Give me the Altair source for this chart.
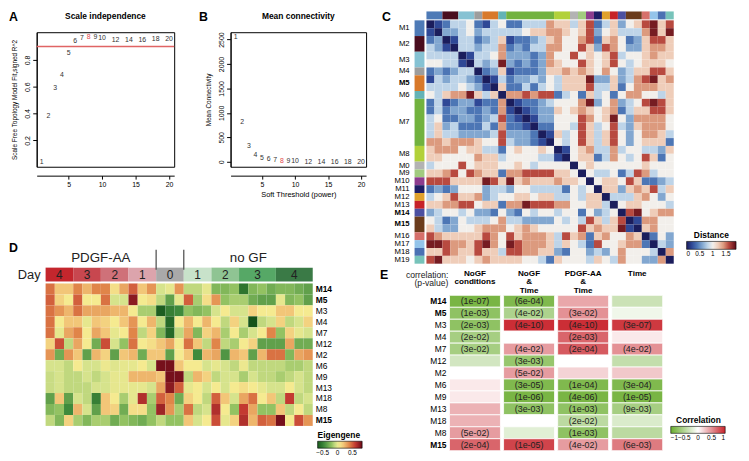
import altair as alt
import pandas as pd

FONT = "Liberation Sans"

# ================= Panels A and B : soft-threshold selection =================
powers = [1, 2, 3, 4, 5, 6, 7, 8, 9, 10, 12, 14, 16, 18, 20]
sft_r2 = [0.04, 0.384, 0.59, 0.69, 0.854, 0.94, 0.96, 0.97, 0.97, 0.96, 0.948, 0.948, 0.95, 0.955, 0.955]
mean_k = [2548, 806, 316, 135, 81, 48, 30, 18, 12, 9, 5, 3, 2, 1.5, 1]
chosen_power = 8
r2_cutoff = 0.9
power_ticks = [5, 10, 15, 20]
r2_ticks = [0.2, 0.4, 0.6, 0.8]
k_ticks = [0, 500, 1000, 1500, 2000, 2500]

# ================= Panel C : eigengene distance matrix =================
c_modules = ["M1", "M2", "M3", "M4", "M5", "M6", "M7", "M8", "M0", "M9", "M10",
             "M11", "M12", "M13", "M14", "M15", "M16", "M17", "M18", "M19"]
c_rows_per_module = [2, 2, 2, 1, 2, 1, 6, 2, 1, 1, 1, 1, 1, 1, 1, 2, 1, 1, 1, 1]
c_module_colors = ["#4e7ab6", "#4a0d1e", "#86c2d3", "#9d9d9d", "#d8792a", "#63b3b6", "#72b23f",
                   "#b2d13a", "#b3b3b3", "#a2cb7f", "#8d3c8e", "#1f1e66", "#e0a12c", "#c72228",
                   "#4c50a1", "#6b3c1c", "#d6706b", "#94c4ea", "#4b71b3", "#77c3ba"]
c_bold_modules = ["M5", "M14", "M15"]
distance_ticks = [0, 0.5, 1, 1.5]
distance_step = 0.2   # one level of the rows below
# upper triangle of the distance matrix, row by row (levels 0..9)
dist_r00 = [1, 2, 4, 4, 5, 2, 1, 4, 5, 2, 2, 4, 4, 4, 7, 6, 6, 4, 6, 8, 2, 4, 6, 3, 5, 6, 8, 9, 6, 8]
dist_r01 = [3, 3, 4, 5, 3, 4, 4, 4, 4, 4, 5, 6, 6, 7, 7, 6, 5, 6, 8, 3, 5, 6, 4, 4, 4, 7, 9, 6, 9]
dist_r02 = [1, 4, 4, 2, 3, 4, 6, 1, 2, 2, 3, 4, 6, 7, 5, 5, 7, 8, 2, 6, 7, 5, 2, 3, 6, 8, 8, 6]
dist_r03 = [4, 4, 3, 4, 4, 7, 2, 3, 2, 4, 4, 7, 7, 5, 5, 8, 6, 3, 8, 7, 5, 3, 3, 6, 7, 7, 6]
dist_r04 = [1, 4, 4, 5, 7, 3, 3, 3, 2, 3, 7, 5, 5, 8, 5, 6, 5, 6, 8, 4, 5, 5, 6, 7, 6, 6]
dist_r05 = [4, 3, 4, 9, 3, 2, 3, 2, 3, 7, 6, 5, 5, 8, 6, 5, 6, 8, 5, 4, 5, 6, 6, 6, 5]
dist_r06 = [2, 3, 6, 1, 2, 2, 2, 3, 6, 6, 7, 6, 7, 6, 5, 7, 5, 3, 4, 6, 6, 8, 8, 6]
dist_r07 = [1, 4, 2, 3, 3, 4, 3, 5, 4, 6, 6, 6, 9, 3, 3, 6, 3, 4, 7, 8, 9, 6, 7]
dist_r08 = [6, 2, 2, 4, 2, 4, 5, 4, 6, 6, 6, 8, 4, 4, 6, 2, 5, 7, 7, 7, 6, 6]
dist_r09 = [7, 7, 8, 7, 8, 8, 2, 4, 5, 2, 6, 4, 5, 2, 5, 7, 7, 5, 5, 4, 6]
dist_r10 = [1, 2, 2, 3, 4, 5, 5, 5, 7, 9, 3, 5, 7, 3, 4, 5, 8, 9, 8, 6]
dist_r11 = [1, 2, 3, 3, 6, 5, 6, 7, 6, 5, 6, 7, 2, 4, 6, 6, 8, 8, 6]
dist_r12 = [1, 3, 3, 5, 5, 5, 8, 7, 5, 6, 9, 5, 3, 7, 7, 7, 7, 5]
dist_r13 = [2, 2, 5, 5, 4, 8, 6, 4, 5, 8, 4, 3, 6, 7, 7, 7, 5]
dist_r14 = [1, 6, 4, 5, 8, 6, 4, 6, 8, 5, 3, 5, 7, 7, 6, 4]
dist_r15 = [5, 4, 5, 8, 6, 4, 6, 8, 5, 3, 5, 6, 6, 6, 2]
dist_r16 = [1, 5, 6, 7, 4, 4, 7, 4, 5, 5, 4, 4, 3, 6]
dist_r17 = [5, 6, 6, 2, 4, 7, 5, 4, 5, 8, 6, 2, 5]
dist_r18 = [5, 6, 5, 5, 5, 5, 5, 5, 6, 5, 5, 5]
dist_r19 = [5, 4, 4, 5, 2, 4, 8, 7, 4, 5, 5]
dist_r20 = [5, 6, 6, 5, 8, 6, 2, 2, 3, 4]
dist_r21 = [6, 6, 3, 6, 7, 6, 8, 4, 6]
dist_r22 = [4, 4, 4, 6, 7, 5, 3, 5]
dist_r23 = [5, 6, 6, 5, 5, 5, 4]
dist_r24 = [8, 9, 5, 6, 7, 7]
dist_r25 = [1, 7, 7, 5, 5]
dist_r26 = [6, 7, 5, 5]
dist_r27 = [2, 5, 3]
dist_r28 = [4, 3]
dist_r29 = [7]
dist_r30 = []

# ================= Panel D : module eigengenes over time =================
d_modules = ["M14", "M5", "M3", "M4", "M7", "M12", "M2", "M6", "M9", "M13", "M18", "M8", "M15"]
d_bold_modules = ["M14", "M5", "M15"]
d_group_names = ["PDGF-AA", "no GF"]
d_day_labels = ["4", "3", "2", "1", "0", "1", "2", "3", "4"]
d_day_ncols = [3, 3, 3, 3, 3, 3, 3, 4, 4]
d_day_colors = ["#c4262d", "#c8474f", "#cf7179", "#dca4ac", "#a9a9a9",
                "#c8e2ca", "#8fc493", "#56a866", "#3a7a46"]
eigengene_ticks = [-0.5, 0, 0.5]
eig_M14 = [0.45, 0.2, 0.2, 0.4, 0.25, 0.4, 0.4, 0.1, 0.3, 0.5, 0.2, 0.35, -0.05, 0.0, 0.35,
           -0.1, -0.1, 0.0, -0.25, -0.25, -0.2, -0.55, -0.25, -0.2, -0.3, -0.25, -0.25, -0.3, -0.35]
eig_M5 = [0.5, 0.15, 0.05, 0.5, 0.05, 0.05, 0.45, -0.05, -0.05, 0.75, 0.05, 0.1, -0.1, -0.35, 0.0,
          0.5, -0.15, 0.1, 0.35, -0.2, -0.15, -0.15, -0.3, -0.35, -0.35, 0.0, -0.25, -0.2, -0.35]
eig_M3 = [0.45, 0.35, 0.25, 0.45, 0.3, 0.3, 0.3, 0.25, 0.25, 0.05, -0.15, -0.15, -0.65, -0.5, -0.45,
          -0.2, -0.25, -0.2, -0.05, 0.05, -0.05, -0.05, 0.15, 0.05, 0.05, 0.2, 0.2, 0.05, 0.05]
eig_M4 = [0.45, 0.05, 0.2, 0.2, 0.0, 0.2, 0.15, 0.05, 0.2, 0.35, 0.05, 0.25, -0.1, -0.6, 0.05,
          0.25, 0.05, 0.25, 0.05, -0.1, 0.15, -0.05, -0.7, -0.1, -0.05, 0.15, -0.1, -0.05, 0.15]
eig_M7 = [0.45, 0.0, 0.3, 0.4, 0.05, 0.3, 0.2, 0.0, 0.05, 0.4, -0.1, 0.15, -0.25, -0.6, -0.1,
          0.3, -0.25, 0.15, 0.25, -0.15, 0.05, -0.15, -0.05, 0.05, 0.4, -0.2, 0.15, 0.0, -0.05]
eig_M12 = [0.15, 0.55, -0.1, 0.3, 0.05, -0.3, 0.55, -0.05, -0.2, 0.45, 0.05, 0.1, 0.2, 0.3, 0.05,
           0.45, 0.2, -0.1, 0.4, -0.1, -0.15, 0.05, 0.15, -0.35, -0.35, -0.35, 0.3, -0.3, -0.3]
eig_M2 = [0.35, -0.3, 0.35, 0.2, -0.35, 0.25, 0.15, -0.35, 0.2, 0.25, -0.3, 0.2, 0.2, -0.35, 0.05,
          0.2, -0.45, 0.25, 0.3, -0.4, 0.25, 0.2, -0.35, 0.25, 0.45, 0.45, -0.25, 0.3, 0.35]
eig_M6 = [-0.05, -0.05, -0.1, 0.05, -0.05, -0.05, 0.02, -0.02, 0.0, 0.0, 0.05, -0.05, 0.8, 0.8, 0.2,
          0.05, 0.05, -0.05, 0.0, -0.05, -0.1, 0.02, -0.1, -0.1, -0.1, -0.1, -0.15, -0.15, -0.1]
eig_M9 = [-0.08, -0.05, -0.1, -0.1, -0.05, -0.1, -0.05, 0.0, 0.0, 0.25, 0.25, 0.25, 0.2, 0.8, 0.8,
          -0.1, 0.25, 0.15, -0.1, -0.05, -0.05, -0.15, -0.05, -0.1, -0.1, -0.15, -0.1, -0.05, -0.1]
eig_M13 = [-0.08, -0.05, -0.1, -0.1, -0.1, -0.05, -0.05, 0.0, 0.0, 0.0, 0.0, -0.05, 0.3, 0.75, 0.5,
           0.0, 0.05, -0.05, 0.05, -0.05, 0.05, 0.1, 0.05, 0.0, -0.05, -0.05, 0.05, -0.05, -0.1]
eig_M18 = [-0.35, 0.2, -0.35, -0.05, -0.1, -0.5, 0.2, 0.05, -0.15, 0.0, 0.65, -0.15, 0.5, 0.4, -0.3,
           0.15, 0.05, -0.1, 0.5, 0.2, -0.05, 0.3, 0.45, 0.05, 0.2, -0.1, 0.6, -0.1, -0.05]
eig_M8 = [-0.25, -0.2, -0.45, 0.25, -0.05, -0.35, 0.2, 0.15, -0.3, 0.1, 0.1, -0.2, 0.7, 0.35, -0.15,
          0.45, -0.1, -0.05, 0.65, 0.05, -0.2, 0.6, 0.3, -0.2, -0.2, 0.2, -0.1, 0.05, -0.1]
eig_M15 = [-0.1, -0.25, 0.15, -0.15, -0.25, -0.15, -0.15, -0.3, -0.2, -0.25, -0.3, -0.2, -0.1, -0.2, -0.2,
           0.2, -0.05, 0.05, 0.55, 0.0, 0.15, 0.65, 0.25, 0.5, 0.45, 0.8, 0.05, 0.55, 0.35]

# ================= Panel E : module-trait correlations =================
e_columns = ["NoGF\nconditions", "NoGF\n&\nTime", "PDGF-AA\n&\nTime", "Time"]
corr_nogf_cond = [-0.9, -0.75, -0.75, -0.6, -0.6, -0.3, 0.0, 0.1, 0.1, 0.35, 0.35, 0.45, 0.7]
p_nogf_cond = ["1e-07", "1e-03", "2e-03", "2e-02", "3e-02", "", "", "", "", "", "", "5e-02", "2e-04"]
corr_nogf_time = [-0.85, -0.55, 0.95, 0.0, 0.45, -0.7, 0.45, -0.85, -0.9, -0.75, 0.0, -0.2, 0.85]
p_nogf_time = ["6e-04", "4e-02", "4e-10", "", "4e-02", "3e-03", "5e-02", "3e-05", "1e-06", "3e-03", "", "", "1e-05"]
corr_pdgf_time = [0.4, 0.5, 0.95, 0.7, 0.75, 0.0, 0.2, -0.85, -0.9, -0.75, -0.45, -0.75, 0.45]
p_pdgf_time = ["", "3e-02", "4e-10", "2e-03", "2e-04", "", "", "1e-04", "4e-06", "1e-03", "2e-02", "1e-03", "4e-02"]
corr_time = [-0.35, -0.1, 0.9, 0.1, 0.5, -0.4, 0.25, -0.85, -0.9, -0.6, -0.25, -0.45, 0.6]
p_time = ["", "", "3e-07", "", "4e-02", "", "", "3e-04", "1e-05", "9e-03", "", "", "6e-03"]
correlation_ticks = [-1, -0.5, 0, 0.5, 1]

# ============================================================================
BLACK = "black"
LEFT_GUTTER = 28   # room left of panels A / D for letters and axis titles
TOP_GUTTER = 21    # room above panels A / B / C for letters and titles


def xq(f, sc):
    return alt.X(f, type="quantitative", scale=sc, axis=None)


def yq(f, sc):
    return alt.Y(f, type="quantitative", scale=sc, axis=None)


def lin(dom, rev=False):
    if rev:
        return alt.Scale(domain=dom, nice=False, zero=False, reverse=True)
    return alt.Scale(domain=dom, nice=False, zero=False)


def grad_legend(title, lx, ly, length, thick, values, anchor):
    return alt.Legend(title=title, orient="none", legendX=lx, legendY=ly, direction="horizontal",
                      gradientLength=length, gradientThickness=thick, values=values, format=".2~g",
                      titleFontSize=8.5, titleFontWeight="bold", titleFont=FONT, titleColor=BLACK,
                      titleAnchor=anchor, titlePadding=2, labelFontSize=6.5, labelFont=FONT,
                      labelColor=BLACK, labelAlign="center", labelOffset=2, labelOverlap=False,
                      gradientStrokeColor=BLACK, gradientStrokeWidth=0.6)


def letter(txt, xv, yv):
    return alt.Chart(pd.DataFrame({"t": [txt]})).mark_text(
        font=FONT, fontSize=12.5, fontWeight="bold", align="left", baseline="top", color=BLACK
    ).encode(text="t:N", x=alt.value(xv), y=alt.value(yv))


def head(txt, xv):
    return alt.Chart(pd.DataFrame({"t": [txt]})).mark_text(
        font=FONT, fontSize=8.5, fontWeight="bold", align="center", baseline="alphabetic", color=BLACK
    ).encode(text="t:N", x=alt.value(xv), y=alt.value(-13.5))


# ---------------- A / B ----------------
dfAB = pd.DataFrame({"power": powers, "r2": sft_r2, "k": mean_k})
dfAB["label"] = dfAB["power"].astype(str)
dfAB["chosen"] = dfAB["power"] == chosen_power
x_ab = lin([0.24, 20.76])
y_a = lin([0.003, 1.007])
y_b = lin([-101, 2650])
pt_color = alt.condition("datum.chosen", alt.value("#e3474d"), alt.value("#333333"))


def x_axis(title):
    return alt.Axis(values=power_ticks, title=title, offset=9, tickSize=3.5, labelFontSize=7,
                    labelPadding=1, titleFontSize=7.5, titleFontWeight="normal", titlePadding=4)


def y_axis(title, fmt, vals):
    return alt.Axis(values=vals, format=fmt, title=title, tickSize=4, labelAngle=270,
                    labelAlign="center", labelBaseline="bottom", labelPadding=2, labelFontSize=7,
                    titleFontSize=6.5, titleFontWeight="normal", titlePadding=6)


A_W, A_H = 139, 136
B_W = 137
A_rule = alt.Chart(pd.DataFrame({"cut": [r2_cutoff]})).mark_rule(color="#e06464", strokeWidth=1.5).encode(
    y=alt.Y("cut:Q", scale=y_a, axis=y_axis("Scale Free Topology Model Fit,signed R^2", ".1f", r2_ticks)))
A_pts = alt.Chart(dfAB).mark_text(font=FONT, fontSize=7).encode(
    x=alt.X("power:Q", scale=x_ab, axis=x_axis(None)),
    y=alt.Y("r2:Q", scale=y_a, axis=y_axis("Scale Free Topology Model Fit,signed R^2", ".1f", r2_ticks)),
    text="label:N", color=pt_color)
A = alt.layer(A_rule, A_pts, letter("A", -LEFT_GUTTER, -TOP_GUTTER), head("Scale independence", A_W / 2)).properties(
    width=A_W, height=A_H, view=alt.ViewBackground(stroke=BLACK, strokeWidth=1))

B_pts = alt.Chart(dfAB).mark_text(font=FONT, fontSize=7).encode(
    x=alt.X("power:Q", scale=x_ab, axis=x_axis("Soft Threshold (power)")),
    y=alt.Y("k:Q", scale=y_b, axis=y_axis("Mean Connectivity", "d", k_ticks)),
    text="label:N", color=pt_color)
B = alt.layer(B_pts, letter("B", -32, -TOP_GUTTER), head("Mean connectivity", B_W / 2)).properties(
    width=B_W, height=A_H, view=alt.ViewBackground(stroke=BLACK, strokeWidth=1))

# ---------------- C ----------------
upper = [dist_r00, dist_r01, dist_r02, dist_r03, dist_r04, dist_r05, dist_r06, dist_r07, dist_r08,
         dist_r09, dist_r10, dist_r11, dist_r12, dist_r13, dist_r14, dist_r15, dist_r16, dist_r17,
         dist_r18, dist_r19, dist_r20, dist_r21, dist_r22, dist_r23, dist_r24, dist_r25, dist_r26,
         dist_r27, dist_r28, dist_r29, dist_r30]
n = len(upper)
mat = [[0.0] * n for _ in range(n)]
for i, row in enumerate(upper):
    for k, lev in enumerate(row):
        j = i + 1 + k
        mat[i][j] = lev * distance_step
        mat[j][i] = lev * distance_step
dfC = pd.DataFrame([{"c0": j, "c1": j + 1, "r0": i, "r1": i + 1, "d": mat[i][j]}
                    for i in range(n) for j in range(n)])
starts = []
s = 0
for cnt in c_rows_per_module:
    starts.append(s)
    s += cnt
dfCm = pd.DataFrame({"module": c_modules, "s": starts,
                     "e": [a + b for a, b in zip(starts, c_rows_per_module)], "col": c_module_colors})
dfCm["mid"] = (dfCm["s"] + dfCm["e"]) / 2
dfCm["bold"] = dfCm["module"].isin(c_bold_modules)
dfCm["bar0"] = -1.134
dfCm["bar1"] = -0.126
dfCm["sx0"] = -1.488
dfCm["sx1"] = -0.248
dfCm["lx"] = -2.11
x_c = lin([-5.828, 39.432])
y_c = lin([1.512, 31.126], rev=True)
dist_scale = alt.Scale(domain=[0, 0.2, 0.4, 0.6, 0.8, 1.0, 1.2, 1.4, 1.6, 1.88],
                       range=["#1b1d5c", "#2f4896", "#4d76b5", "#82a7d0", "#bed4e8", "#f2efeb",
                              "#efcdb9", "#dc9a7e", "#b84a40", "#5c0a16"], interpolate="rgb")
C_heat = alt.Chart(dfC).mark_rect().encode(
    x=xq("c0", x_c), x2=alt.X2("c1"), y=yq("r0", y_c), y2=alt.Y2("r1"),
    color=alt.Color("d:Q", scale=dist_scale,
                    legend=grad_legend("Distance", 310, 201, 50, 8, distance_ticks, "middle")))
C_top = alt.Chart(dfCm).mark_rect().encode(
    x=xq("s", x_c), x2=alt.X2("e"), y=yq("bar0", y_c), y2=alt.Y2("bar1"),
    fill=alt.Fill("col:N", scale=None))
C_side = alt.Chart(dfCm).mark_rect().encode(
    y=yq("s", y_c), y2=alt.Y2("e"), x=xq("sx0", x_c), x2=alt.X2("sx1"),
    fill=alt.Fill("col:N", scale=None))
C_lab_n = alt.Chart(dfCm).transform_filter("!datum.bold").mark_text(
    font=FONT, fontSize=7.8, align="right", baseline="middle", color=BLACK).encode(
    x=xq("lx", x_c), y=yq("mid", y_c), text="module:N")
C_lab_b = alt.Chart(dfCm).transform_filter("datum.bold").mark_text(
    font=FONT, fontSize=7.8, fontWeight="bold", align="right", baseline="middle", color=BLACK).encode(
    x=xq("lx", x_c), y=yq("mid", y_c), text="module:N")
C = alt.layer(C_heat, C_top, C_side, C_lab_n, C_lab_b, letter("C", 2, -TOP_GUTTER)).properties(
    width=365, height=235)

# ---------------- D ----------------
d_rows = [eig_M14, eig_M5, eig_M3, eig_M4, eig_M7, eig_M12, eig_M2, eig_M6, eig_M9, eig_M13,
          eig_M18, eig_M8, eig_M15]
dfD = pd.DataFrame([{"c0": c, "c1": c + 1, "r0": r, "r1": r + 1, "v": v}
                    for r, vals in enumerate(d_rows) for c, v in enumerate(vals)])
ncol = sum(d_day_ncols)
dstarts = []
s = 0
for cnt in d_day_ncols:
    dstarts.append(s)
    s += cnt
dfDay = pd.DataFrame({"lab": d_day_labels, "s": dstarts,
                      "e": [a + b for a, b in zip(dstarts, d_day_ncols)], "col": d_day_colors})
dfDay["mid"] = (dfDay["s"] + dfDay["e"]) / 2
dfDay["y0"] = -1.444
dfDay["y1"] = -0.181
dfDay["ym"] = -0.81
ctrl = 4  # index of the day-0 group
dfHdr = pd.DataFrame({"t": d_group_names,
                      "x": [dstarts[ctrl] / 2, (dfDay["e"][ctrl] + ncol) / 2],
                      "y": [-2.35, -2.35]})
dfSep = pd.DataFrame({"x": [dstarts[ctrl], dfDay["e"][ctrl]], "y0": [-3.07, -3.07], "y1": [-1.26, -1.26]})
dfDlab = pd.DataFrame({"module": d_modules, "r": [i + 0.5 for i in range(len(d_modules))]})
dfDlab["bold"] = dfDlab["module"].isin(d_bold_modules)
dfDlab["x"] = ncol + 0.32
x_d = lin([-0.967, 34.9])
y_d = lin([-3.79, 16.07], rev=True)
eig_scale = alt.Scale(domain=[-0.67, -0.45, -0.2, -0.05, 0.05, 0.2, 0.4, 0.6, 0.83],
                      range=["#1a5a1e", "#3f8a3c", "#93c262", "#d6e38c", "#f5ea90", "#f2c678",
                             "#e08549", "#c33a31", "#6b0a18"], interpolate="rgb")
D_heat = alt.Chart(dfD).mark_rect().encode(
    x=xq("c0", x_d), x2=alt.X2("c1"), y=yq("r0", y_d), y2=alt.Y2("r1"),
    color=alt.Color("v:Q", scale=eig_scale,
                    legend=grad_legend("Eigengene", 284, 191, 45, 7, eigengene_ticks, "start")))
D_day = alt.Chart(dfDay).mark_rect().encode(
    x=xq("s", x_d), x2=alt.X2("e"), y=yq("y0", y_d), y2=alt.Y2("y1"),
    fill=alt.Fill("col:N", scale=None))
D_daytxt = alt.Chart(dfDay).mark_text(font=FONT, fontSize=12, color="#222222").encode(
    x=xq("mid", x_d), y=yq("ym", y_d), text="lab:N")
D_hdr = alt.Chart(dfHdr).mark_text(font=FONT, fontSize=13.5, color="#222222").encode(
    x=xq("x", x_d), y=yq("y", y_d), text="t:N")
D_sep = alt.Chart(dfSep).mark_rule(color="#555555", strokeWidth=1.3).encode(
    x=xq("x", x_d), y=yq("y0", y_d), y2=alt.Y2("y1"))
D_dayword = alt.Chart(pd.DataFrame({"t": ["Day"], "x": [-0.54], "y": [-0.81]})).mark_text(
    font=FONT, fontSize=13, align="right", color="#222222").encode(
    x=xq("x", x_d), y=yq("y", y_d), text="t:N")
D_lab_n = alt.Chart(dfDlab).transform_filter("!datum.bold").mark_text(
    font=FONT, fontSize=8.5, align="left", baseline="middle", color=BLACK).encode(
    x=xq("x", x_d), y=yq("r", y_d), text="module:N")
D_lab_b = alt.Chart(dfDlab).transform_filter("datum.bold").mark_text(
    font=FONT, fontSize=8.5, fontWeight="bold", align="left", baseline="middle", color=BLACK).encode(
    x=xq("x", x_d), y=yq("r", y_d), text="module:N")
D = alt.layer(D_heat, D_day, D_daytxt, D_hdr, D_sep, D_dayword, D_lab_n, D_lab_b,
              letter("D", -LEFT_GUTTER, 0)).properties(width=334, height=220)

# ---------------- E ----------------
e_corr = [corr_nogf_cond, corr_nogf_time, corr_pdgf_time, corr_time]
e_p = [p_nogf_cond, p_nogf_time, p_pdgf_time, p_time]
cell_w = 0.942
dfE = pd.DataFrame([{"x0": ci, "x1": ci + cell_w, "xm": ci + cell_w / 2, "r0": r, "r1": r + 1,
                     "rm": r + 0.5, "v": e_corr[ci][r],
                     "p": ("(" + e_p[ci][r] + ")") if e_p[ci][r] else ""}
                    for ci in range(len(e_columns)) for r in range(len(d_modules))])
dfEh = pd.DataFrame({"t": e_columns, "x": [i + cell_w / 2 for i in range(len(e_columns))]})
dfEh["y"] = -2.1
dfElab = pd.DataFrame({"module": d_modules, "r": [i + 0.5 for i in range(len(d_modules))]})
dfElab["bold"] = dfElab["module"].isin(d_bold_modules)
dfElab["x"] = -0.055
x_e = lin([-1.286, 5.390])
y_e = lin([-2.235, 13.66], rev=True)
corr_scale = alt.Scale(domain=[-1, 0, 1], range=["#6aad2f", "#ffffff", "#c8232b"], interpolate="rgb")
E_cells = alt.Chart(dfE).mark_rect(stroke="white", strokeWidth=0.8).encode(
    x=xq("x0", x_e), x2=alt.X2("x1"), y=yq("r0", y_e), y2=alt.Y2("r1"),
    color=alt.Color("v:Q", scale=corr_scale,
                    legend=grad_legend("Correlation", 294, 149, 55, 7, correlation_ticks, "middle")))
E_p = alt.Chart(dfE).mark_text(font=FONT, fontSize=9, color="#222222").encode(
    x=xq("xm", x_e), y=yq("rm", y_e), text="p:N")
E_hdr = alt.Chart(dfEh).mark_text(font=FONT, fontSize=8.2, fontWeight="bold", baseline="top",
                                  lineBreak="\n", lineHeight=8.3, color=BLACK).encode(
    x=xq("x", x_e), y=yq("y", y_e), text="t:N")
E_corrlab = alt.Chart(pd.DataFrame({"t": ["correlation:\n(p-value)"], "x": [-0.02], "y": [-2.07]})).mark_text(
    font=FONT, fontSize=8.7, align="right", baseline="top", lineBreak="\n", lineHeight=9, color="#222222").encode(
    x=xq("x", x_e), y=yq("y", y_e), text="t:N")
E_lab_n = alt.Chart(dfElab).transform_filter("!datum.bold").mark_text(
    font=FONT, fontSize=8.5, align="right", baseline="middle", color=BLACK).encode(
    x=xq("x", x_e), y=yq("r", y_e), text="module:N")
E_lab_b = alt.Chart(dfElab).transform_filter("datum.bold").mark_text(
    font=FONT, fontSize=8.5, fontWeight="bold", align="right", baseline="middle", color=BLACK).encode(
    x=xq("x", x_e), y=yq("r", y_e), text="module:N")
E = alt.layer(E_cells, E_p, E_hdr, E_corrlab, E_lab_n, E_lab_b, letter("E", 0, 0)).properties(
    width=365, height=192)

# ---------------- assemble ----------------
AB = alt.hconcat(A, B, spacing=22)
left = alt.vconcat(AB, D, spacing=43).resolve_scale(color="independent")
right = alt.vconcat(C, E, spacing=4).resolve_scale(color="independent")
chart = alt.hconcat(left, right, spacing=13).resolve_scale(color="independent").properties(
    padding=0
).configure_view(stroke=None).configure_axis(
    labelFont=FONT, titleFont=FONT, labelColor=BLACK, titleColor=BLACK, domainColor=BLACK,
    tickColor=BLACK, grid=False, domainWidth=1, tickWidth=1
).configure_text(font=FONT)

chart.save("out.html", embed_options={"renderer": "svg", "actions": False})
